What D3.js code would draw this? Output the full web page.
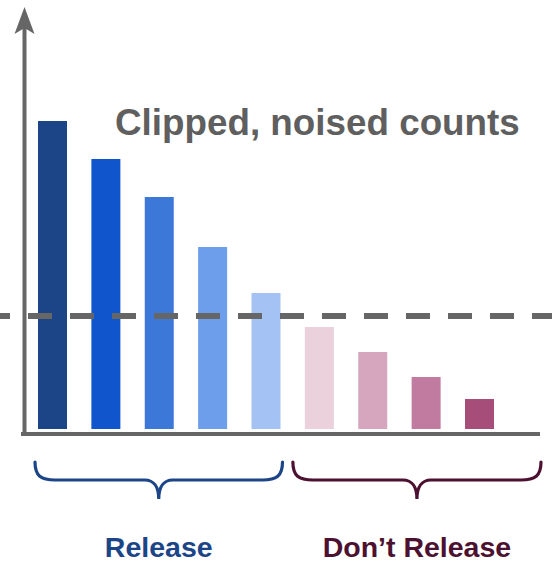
<!DOCTYPE html>
<html>
<head>
<meta charset="utf-8">
<script src="https://cdn.jsdelivr.net/npm/d3@7"></script>
<style>
  html, body { margin: 0; padding: 0; background: #fff; }
  svg { display: block; }
</style>
</head>
<body>
<svg id="chart" width="552" height="562"></svg>
<script>
// ---- data ----
const categories = ["c1", "c2", "c3", "c4", "c5", "c6", "c7", "c8", "c9"];
const counts = [308, 270, 232, 182, 136, 102, 77, 52, 30];
const threshold = 113;
const groups = ["Release", "Release", "Release", "Release", "Release",
                "Don't Release", "Don't Release", "Don't Release", "Don't Release"];
const barColors = ["#1c4587", "#1155cc", "#3c78d8", "#6d9eeb", "#a4c2f4",
                   "#ead1dc", "#d5a6bd", "#c27ba0", "#a64d79"];
const titleText = "Clipped, noised counts";
const groupLabels = ["Release", "Don\u2019t Release"];
const groupColors = ["#1c4587", "#4c1130"];

// ---- layout ----
const svg = d3.select("#chart");
const W = 552, H = 562;
const baseY = 429;
const axisY = 434;
const axisX = 24.5;
const grey = "#666666";

const x = d3.scaleBand().domain(categories).range([38, 494]).paddingInner(0.4567).paddingOuter(0);
const y = d3.scaleLinear().domain([0, 400]).range([baseY, 29]);
const bw = x.bandwidth();

// bars
svg.append("g").selectAll("rect")
  .data(categories)
  .join("rect")
  .attr("x", d => x(d))
  .attr("width", bw)
  .attr("y", (d, i) => y(counts[i]))
  .attr("height", (d, i) => y(0) - y(counts[i]))
  .attr("fill", (d, i) => barColors[i]);

// threshold dashed line
svg.append("line")
  .attr("x1", 0).attr("x2", W)
  .attr("y1", y(threshold)).attr("y2", y(threshold))
  .attr("stroke", grey)
  .attr("stroke-width", 6)
  .attr("stroke-dasharray", "24,18")
  .attr("stroke-dashoffset", 14);

// axes
svg.append("line")
  .attr("x1", 21).attr("x2", 540)
  .attr("y1", axisY).attr("y2", axisY)
  .attr("stroke", grey).attr("stroke-width", 4);
svg.append("line")
  .attr("x1", axisX).attr("x2", axisX)
  .attr("y1", axisY + 2).attr("y2", 26)
  .attr("stroke", grey).attr("stroke-width", 4);
// arrowhead
svg.append("path")
  .attr("d", `M${axisX},7 L${axisX + 10},34 L${axisX},28 L${axisX - 10},34 Z`)
  .attr("fill", grey);

// title
svg.append("text")
  .attr("x", 115).attr("y", 135)
  .attr("font-family", "Liberation Sans, Arial, sans-serif")
  .attr("font-weight", "bold")
  .attr("font-size", 36.8)
  .attr("fill", "#5f5f5f")
  .text(titleText);

// braces
function bracePath(x0, x1, yTop, yMid, yTip) {
  const xc = (x0 + x1) / 2;
  const r = 20, rt = 14;
  return `M${x0},${yTop}` +
    ` C${x0},${yTop + 14} ${x0 + 6},${yMid} ${x0 + r},${yMid}` +
    ` L${xc - rt},${yMid}` +
    ` C${xc - 5},${yMid} ${xc},${yMid + 7} ${xc},${yTip}` +
    ` C${xc},${yMid + 7} ${xc + 5},${yMid} ${xc + rt},${yMid}` +
    ` L${x1 - r},${yMid}` +
    ` C${x1 - 6},${yMid} ${x1},${yTop + 14} ${x1},${yTop}`;
}

const braceSpans = [
  [x(categories[0]) - 3, x(categories[4]) + bw + 2],
  [x(categories[5]) - 12, 541]
];

braceSpans.forEach((s, i) => {
  svg.append("path")
    .attr("d", bracePath(s[0], s[1], 462, 480, 499))
    .attr("fill", "none")
    .attr("stroke", groupColors[i])
    .attr("stroke-width", 3.2)
    .attr("stroke-linecap", "round");
  svg.append("text")
    .attr("x", (s[0] + s[1]) / 2)
    .attr("y", 557)
    .attr("text-anchor", "middle")
    .attr("font-family", "Liberation Sans, Arial, sans-serif")
    .attr("font-weight", "bold")
    .attr("font-size", 28.5)
    .attr("fill", groupColors[i])
    .text(groupLabels[i]);
});
</script>
</body>
</html>
